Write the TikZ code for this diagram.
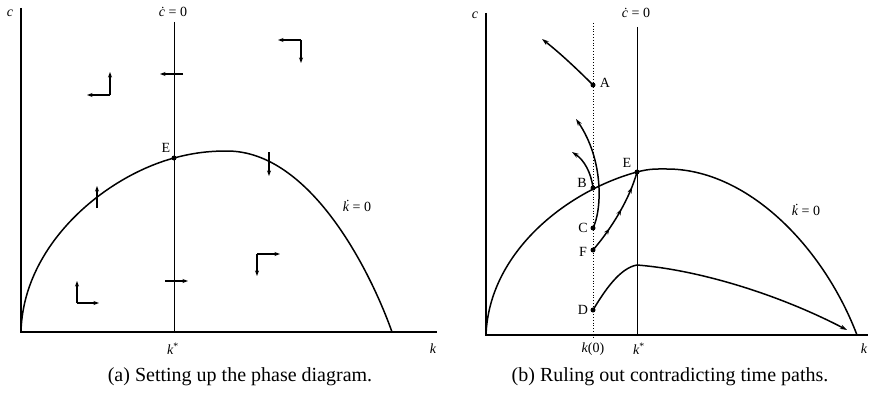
\documentclass[tikz,border=0pt]{standalone}
\usepackage{fontspec}
\setmainfont{Liberation Serif}
\usetikzlibrary{arrows.meta,decorations.markings}
\newcommand\tdot[1]{{\itshape\accent"02D9 #1}}
\begin{document}
\begin{tikzpicture}[x=1pt,y=-1pt,
  axis/.style={line width=1.3pt},
  curve/.style={line width=1.5pt,line join=round},
  thinline/.style={line width=0.9pt},
  dotline/.style={line width=0.8pt,dotted},
  arr/.style={line width=1.1pt,-{Stealth[length=5.5pt,width=4pt]}},
  patharr/.style={line width=1.5pt,-{Stealth[length=7pt,width=4.5pt]}},
  midarrows/.style={decoration={markings,
      mark=at position 0.3 with {\arrow{Stealth[length=6pt,width=4.5pt]}},
      mark=at position 0.55 with {\arrow{Stealth[length=6pt,width=4.5pt]}},
      mark=at position 0.82 with {\arrow{Stealth[length=6pt,width=4.5pt]}}},
      postaction={decorate}},
  dot/.style={circle,fill,inner sep=0pt,minimum size=5pt},
  lab/.style={font=\fontsize{14}{16}\selectfont,inner sep=0pt},
  captext/.style={font=\fontsize{20}{24}\selectfont,inner sep=0pt}]
\useasboundingbox (0,0) rectangle (872,396);

% ================= Panel (a) =================
\coordinate (Oa) at (21,332);
\coordinate (Ta) at (21,8);
\coordinate (Xa) at (437,332);
\coordinate (Ra) at (392,332);
\coordinate (Pa) at (227,151);
\coordinate (CtopA) at (174,22);
\coordinate (CbotA) at (174,332);
\draw[axis] (Ta) -- (Oa) -- (Xa);
\draw[thinline] (CtopA) -- (CbotA);
\node[dot] (Ea) at (174,158) {};
\draw[curve] (Oa) .. controls (23,245) and (104,177) .. (Ea.center)
   .. controls (194,152.6) and (210,151) .. (Pa)
   .. controls (310,151) and (370,270) .. (Ra);
\node[lab] (EaL) at (166,148) {E};
\node[lab] (ca) at (10,13) {\itshape c};
\node[lab] (cdota) at (173,12) {\tdot{c} = 0};
\node[lab] (kstara) at (173,349) {{\itshape k}\textsuperscript{*}};
\node[lab] (ka) at (433,349) {\itshape k};
\node[lab] (kdota) at (357,206) {\tdot{k} = 0};
\node[captext] (capa) at (240,377) {(a) Setting up the phase diagram.};

% direction arrows (a)
\coordinate (q1) at (110,95);
\draw[arr] (q1) -- (87,95);
\draw[arr] (q1) -- (110,72);
\coordinate (q2) at (301,40);
\draw[arr] (q2) -- (278,40);
\draw[arr] (q2) -- (301,63);
\coordinate (q3) at (77,303);
\draw[arr] (q3) -- (99,303);
\draw[arr] (q3) -- (77,281);
\coordinate (q4) at (257,254);
\draw[arr] (q4) -- (280,254);
\draw[arr] (q4) -- (257,276);
\coordinate (h1) at (183,74);
\draw[arr] (h1) -- (160,74);
\coordinate (h2) at (165,281);
\draw[arr] (h2) -- (188,281);
\coordinate (v1) at (97,208);
\draw[arr] (v1) -- (97,186);
\coordinate (v2) at (269,152);
\draw[arr] (v2) -- (269,176);

% ================= Panel (b) =================
\coordinate (Ob) at (486,335);
\coordinate (Tb) at (486,13);
\coordinate (Xb) at (868,335);
\coordinate (Rb) at (857,335);
\coordinate (Pb) at (667,169);
\coordinate (CtopB) at (637,27);
\coordinate (CbotB) at (637,335);
\coordinate (K0top) at (593,23);
\coordinate (K0bot) at (593,337);
\draw[axis] (Tb) -- (Ob) -- (Xb);
\draw[thinline] (CtopB) -- (CbotB);
\draw[dotline] (K0top) -- (K0bot);

\node[dot] (A) at (593,85) {};
\node[dot] (B) at (593,188) {};
\node[dot] (C) at (593,228) {};
\node[dot] (F) at (593,250) {};
\node[dot] (D) at (593,310) {};
\node[dot] (Eb) at (637,172) {};
\draw[curve] (Ob) .. controls (489,252) and (567,191) .. (Eb.center)
   .. controls (650,168.5) and (657,169) .. (Pb)
   .. controls (747,169) and (823,246) .. (Rb);
\node[lab] (AL) at (605,83) {A};
\node[lab] (BL) at (582,183) {B};
\node[lab] (CL) at (583,228) {C};
\node[lab] (FL) at (583,252) {F};
\node[lab] (DL) at (583,310) {D};
\node[lab] (EbL) at (627,163) {E};
\node[lab] (cb) at (475,15) {\itshape c};
\node[lab] (cdotb) at (636,13) {\tdot{c} = 0};
\node[lab] (k0) at (593,349) {{\itshape k}(0)};
\node[lab] (kstarb) at (639,349) {{\itshape k}\textsuperscript{*}};
\node[lab] (kb) at (864,349) {\itshape k};
\node[lab] (kdotb) at (806,210) {\tdot{k} = 0};
\node[captext] (capb) at (670,377) {(b) Ruling out contradicting time paths.};

% time paths
\coordinate (tipA) at (542,39);
\coordinate (tipC) at (576,119);
\coordinate (tipB) at (572,152);
\coordinate (Pk) at (637,265);
\coordinate (tipD) at (847,330);
\draw[patharr] (A.center) .. controls (578,70) and (560,53) .. (tipA);
\draw[patharr] (C.center) .. controls (602,210) and (604,160) .. (tipC);
\draw[patharr] (B.center) .. controls (591,172) and (584,160) .. (tipB);
\draw[curve,midarrows] (F.center) .. controls (612,228) and (630,198) .. (Eb.center);
\draw[curve] (D.center) .. controls (605,290) and (620,268) .. (Pk);
\draw[patharr] (Pk) .. controls (700,270) and (780,295) .. (tipD);
\end{tikzpicture}
\end{document}
